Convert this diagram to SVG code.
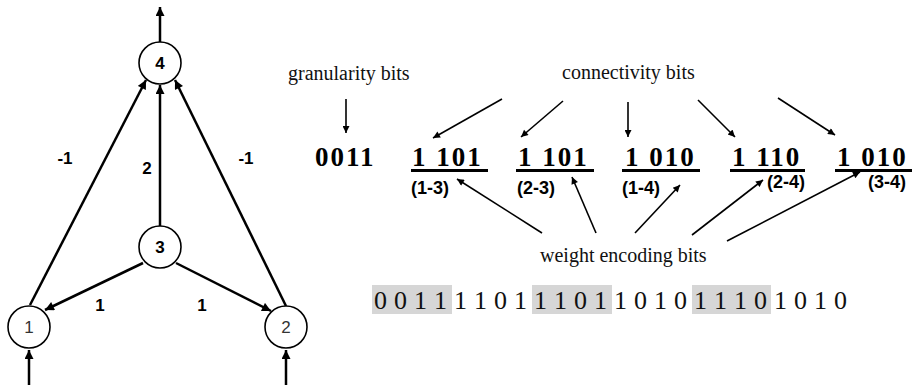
<svg xmlns="http://www.w3.org/2000/svg" width="917" height="385" viewBox="0 0 917 385">
<style>
.edge{stroke:#000;stroke-width:2.5;fill:none}
.thin{stroke:#000;stroke-width:1.6;fill:none}
.node{fill:#fff;stroke:#000;stroke-width:1.6}
.nb{font-family:"Liberation Sans",Arial,sans-serif;font-weight:bold;font-size:17px;text-anchor:middle}
.nr{font-family:"Liberation Sans",Arial,sans-serif;font-size:17px;text-anchor:middle;fill:#333}
.wl{font-family:"Liberation Sans",Arial,sans-serif;font-weight:bold;font-size:17px;text-anchor:middle}
.lbl{font-family:"Liberation Serif","Times New Roman",serif;font-size:20px;fill:#111}
.grp{font-family:"Liberation Serif","Times New Roman",serif;font-weight:bold;font-size:27px;letter-spacing:2px}
.pair{font-family:"Liberation Sans",Arial,sans-serif;font-weight:bold;font-size:18px}
.bits{font-family:"Liberation Serif","Times New Roman",serif;font-size:26px;word-spacing:0.5px;fill:#111}
.hl{fill:#d6d6d6}
</style>
<defs>
<marker id="ah" viewBox="0 0 10 10" refX="10" refY="5" markerWidth="11" markerHeight="9" markerUnits="userSpaceOnUse" orient="auto">
<path d="M0,0 L10,5 L0,10 z" fill="#000"/>
</marker>
<marker id="as" viewBox="0 0 10 10" refX="10" refY="5" markerWidth="9" markerHeight="7" markerUnits="userSpaceOnUse" orient="auto">
<path d="M0,0 L10,5 L0,10 z" fill="#000"/>
</marker>
</defs>

<g id="connectors">
<line class="edge" x1="160" y1="42" x2="160" y2="7" marker-end="url(#ah)"/>
<line class="edge" x1="29" y1="385" x2="29" y2="350" marker-end="url(#ah)"/>
<line class="edge" x1="286" y1="385" x2="286" y2="350" marker-end="url(#ah)"/>
<line class="edge" x1="30" y1="305" x2="146" y2="80" marker-end="url(#ah)"/>
<line class="edge" x1="160" y1="226" x2="160" y2="85" marker-end="url(#ah)"/>
<line class="edge" x1="286" y1="306" x2="175" y2="80" marker-end="url(#ah)"/>
<line class="edge" x1="143" y1="263" x2="45" y2="310" marker-end="url(#ah)"/>
<line class="edge" x1="176" y1="263" x2="271" y2="311" marker-end="url(#ah)"/>
<text class="wl" x="65" y="164">-1</text>
<text class="wl" x="147" y="174">2</text>
<text class="wl" x="246" y="164">-1</text>
<text class="wl" x="100" y="311">1</text>
<text class="wl" x="202" y="311">1</text>

<line class="thin" x1="346" y1="99" x2="346" y2="133" marker-end="url(#as)"/>
<line class="thin" x1="502" y1="99" x2="433" y2="138" marker-end="url(#as)"/>
<line class="thin" x1="563" y1="101" x2="521" y2="137" marker-end="url(#as)"/>
<line class="thin" x1="628" y1="102" x2="628" y2="137" marker-end="url(#as)"/>
<line class="thin" x1="698" y1="100" x2="735" y2="137" marker-end="url(#as)"/>
<line class="thin" x1="778" y1="98" x2="835" y2="135" marker-end="url(#as)"/>

<line class="thin" x1="542" y1="233" x2="457" y2="179" marker-end="url(#as)"/>
<line class="thin" x1="596" y1="233" x2="572" y2="177" marker-end="url(#as)"/>
<line class="thin" x1="635" y1="233" x2="680" y2="185" marker-end="url(#as)"/>
<line class="thin" x1="692" y1="235" x2="763" y2="180" marker-end="url(#as)"/>
<line class="thin" x1="727" y1="241" x2="860" y2="172" marker-end="url(#as)"/>
</g>

<g id="node4"><circle class="node" cx="160" cy="63" r="21"/><text class="nb" x="160" y="69">4</text></g>
<g id="node3"><circle class="node" cx="160" cy="247" r="21"/><text class="nb" x="160" y="253">3</text></g>
<g id="node1"><circle class="node" cx="29" cy="327" r="21"/><text class="nr" x="29" y="333">1</text></g>
<g id="node2"><circle class="node" cx="286" cy="327" r="21"/><text class="nr" x="286" y="333">2</text></g>

<g id="labels">
<text class="lbl" x="288" y="80">granularity bits</text>
<text class="lbl" x="562" y="79">connectivity bits</text>
<text class="lbl" x="540" y="262">weight encoding bits</text>
</g>

<g id="groups">
<text class="grp" x="315" y="166">0011</text>
<text class="grp" x="412" y="166" xml:space="preserve">1 101</text>
<rect x="411" y="169" width="77" height="3"/>
<text class="grp" x="518" y="166" xml:space="preserve">1 101</text>
<rect x="516" y="169" width="78" height="3"/>
<text class="grp" x="625" y="166" xml:space="preserve">1 010</text>
<rect x="622" y="169" width="78" height="3"/>
<text class="grp" x="732" y="166" xml:space="preserve">1 110</text>
<rect x="730" y="169" width="75" height="3"/>
<text class="grp" x="837" y="166" xml:space="preserve">1 010</text>
<rect x="835" y="169" width="77" height="3"/>
<text class="pair" x="411" y="194">(1-3)</text>
<text class="pair" x="517" y="194">(2-3)</text>
<text class="pair" x="622" y="194">(1-4)</text>
<text class="pair" x="767" y="188">(2-4)</text>
<text class="pair" x="868" y="188">(3-4)</text>
</g>

<g id="bitstring">
<rect class="hl" x="372" y="285" width="80" height="29"/>
<rect class="hl" x="532" y="285" width="80" height="29"/>
<rect class="hl" x="692" y="285" width="79" height="29"/>
<text class="bits" x="374" y="309">0 0 1 1 1 1 0 1 1 1 0 1 1 0 1 0 1 1 1 0 1 0 1 0</text>
</g>
</svg>
